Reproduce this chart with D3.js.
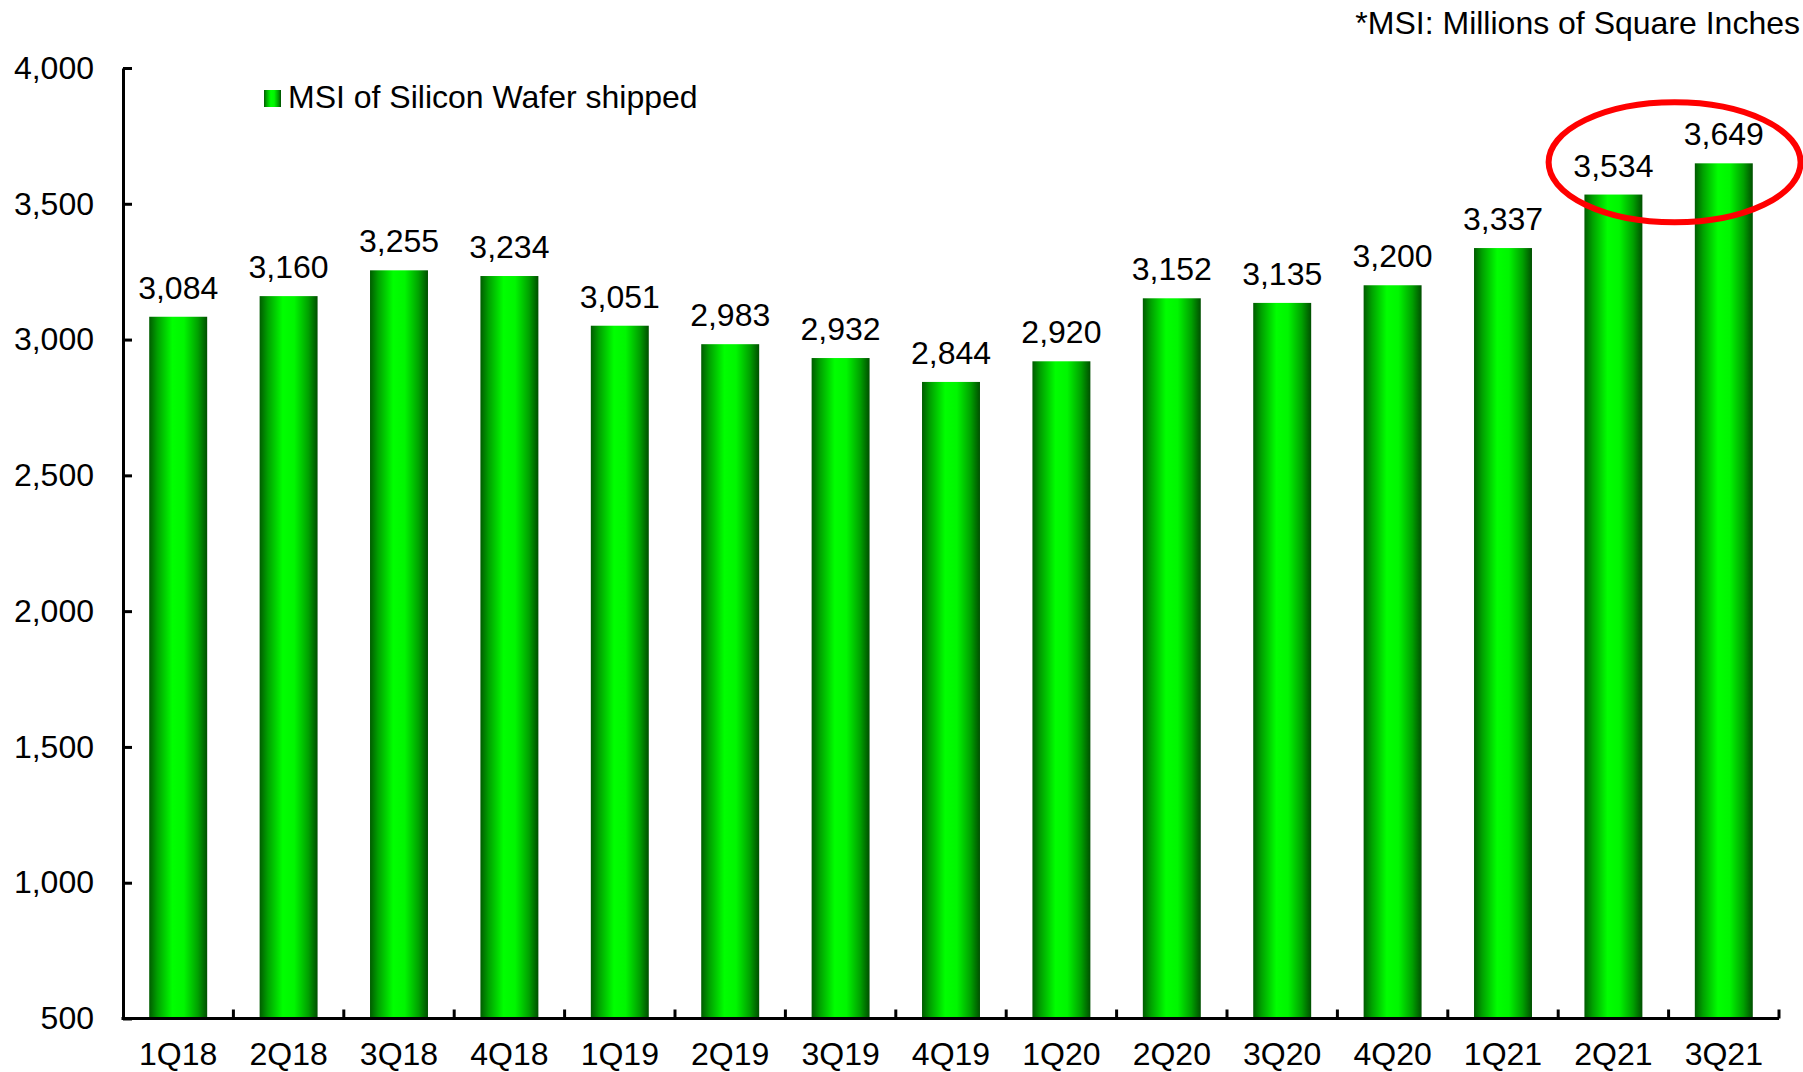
<!DOCTYPE html>
<html>
<head>
<meta charset="utf-8">
<script src="https://cdn.jsdelivr.net/npm/d3@7"></script>
<style>
  html, body { margin: 0; padding: 0; background: #fff; }
  svg { display: block; }
  text { font-family: "Liberation Sans", Arial, sans-serif; fill: #000; }
</style>
</head>
<body>
<svg id="chart" width="1803" height="1072"></svg>
<script>
// Quarterly silicon wafer shipments (MSI)
const quarters = ["1Q18","2Q18","3Q18","4Q18","1Q19","2Q19","3Q19","4Q19","1Q20","2Q20","3Q20","4Q20","1Q21","2Q21","3Q21"];
const shipments = [3084, 3160, 3255, 3234, 3051, 2983, 2932, 2844, 2920, 3152, 3135, 3200, 3337, 3534, 3649];
const yTicks = [500, 1000, 1500, 2000, 2500, 3000, 3500, 4000];
const highlighted = ["2Q21", "3Q21"];
const legendLabel = "MSI of Silicon Wafer shipped";
const noteLabel = "*MSI: Millions of Square Inches";

(function draw() {
  const svg = d3.select("#chart");
  const fontSize = 32;
  const plot = { left: 123, right: 1779, top: 68, bottom: 1018.5 };

  const x = d3.scaleBand()
    .domain(quarters)
    .range([plot.left, plot.right])
    .paddingInner(0.475)
    .paddingOuter(0.2375);

  const y = d3.scaleLinear()
    .domain([500, 4000])
    .range([plot.bottom, plot.top]);

  const rows = quarters.map((q, i) => ({ q, v: shipments[i] }));

  // Cylinder-like horizontal gradient for the bars
  const defs = svg.append("defs");
  const grad = defs.append("linearGradient")
    .attr("id", "barGrad")
    .attr("x1", "0%").attr("x2", "100%")
    .attr("y1", "0%").attr("y2", "0%");
  [
    [0, "#005c00"], [0.14, "#00a000"], [0.40, "#00ff00"],
    [0.60, "#00f600"], [0.84, "#00a000"], [1, "#004f00"]
  ].forEach(([o, c]) => grad.append("stop").attr("offset", o).attr("stop-color", c));

  // Bars
  svg.append("g")
    .selectAll("rect")
    .data(rows)
    .join("rect")
    .attr("x", d => x(d.q))
    .attr("width", x.bandwidth())
    .attr("y", d => y(d.v))
    .attr("height", d => y(500) - y(d.v))
    .attr("fill", "url(#barGrad)");

  // Value labels
  svg.append("g")
    .selectAll("text")
    .data(rows)
    .join("text")
    .attr("x", d => x(d.q) + x.bandwidth() / 2)
    .attr("y", d => y(d.v) - 18)
    .attr("text-anchor", "middle")
    .style("font-size", fontSize + "px")
    .text(d => d3.format(",")(d.v));

  // Y axis
  const yAxis = svg.append("g")
    .attr("transform", `translate(${plot.left},0)`)
    .call(d3.axisLeft(y)
      .tickValues(yTicks)
      .tickFormat(d3.format(","))
      .tickSize(-9)
      .tickSizeOuter(0)
      .tickPadding(29));
  yAxis.select(".domain").attr("stroke", "#000").attr("stroke-width", 3);
  yAxis.selectAll(".tick line").attr("stroke", "#000").attr("stroke-width", 3);
  yAxis.selectAll(".tick text")
    .style("font-size", fontSize + "px")
    .style("font-family", '"Liberation Sans", Arial, sans-serif')
    .attr("fill", "#000");

  // X axis: labels under each band, ticks at band boundaries
  const xAxis = svg.append("g")
    .attr("transform", `translate(0,${plot.bottom})`)
    .call(d3.axisBottom(x).tickSize(0).tickSizeOuter(0).tickPadding(24));
  xAxis.select(".domain").attr("stroke", "#000").attr("stroke-width", 3)
    .attr("d", `M${plot.left - 1.5},0H${plot.right}`);
  xAxis.selectAll(".tick text")
    .style("font-size", fontSize + "px")
    .style("font-family", '"Liberation Sans", Arial, sans-serif')
    .attr("fill", "#000");

  const halfGap = x.step() * x.paddingInner() / 2;
  svg.append("g")
    .selectAll("line")
    .data(quarters)
    .join("line")
    .attr("x1", d => x(d) + x.bandwidth() + halfGap)
    .attr("x2", d => x(d) + x.bandwidth() + halfGap)
    .attr("y1", plot.bottom)
    .attr("y2", plot.bottom - 9)
    .attr("stroke", "#000")
    .attr("stroke-width", 3);

  // Legend
  svg.append("rect")
    .attr("x", 264).attr("y", 90)
    .attr("width", 17).attr("height", 17)
    .attr("fill", "url(#barGrad)");
  svg.append("text")
    .attr("x", 288).attr("y", 108)
    .style("font-size", fontSize + "px")
    .text(legendLabel);

  // Unit note
  svg.append("text")
    .attr("x", 1800).attr("y", 34)
    .attr("text-anchor", "end")
    .style("font-size", fontSize + "px")
    .text(noteLabel);

  // Highlight ring around the latest quarters
  const hx0 = x(highlighted[0]) + x.bandwidth() / 2;
  const hx1 = x(highlighted[1]) + x.bandwidth() / 2;
  svg.append("ellipse")
    .attr("cx", (hx0 + hx1) / 2 + 6)
    .attr("cy", y(d3.max(shipments)) - 1)
    .attr("rx", 126)
    .attr("ry", 60)
    .attr("fill", "none")
    .attr("stroke", "#ff0000")
    .attr("stroke-width", 6);
})();
</script>
</body>
</html>
